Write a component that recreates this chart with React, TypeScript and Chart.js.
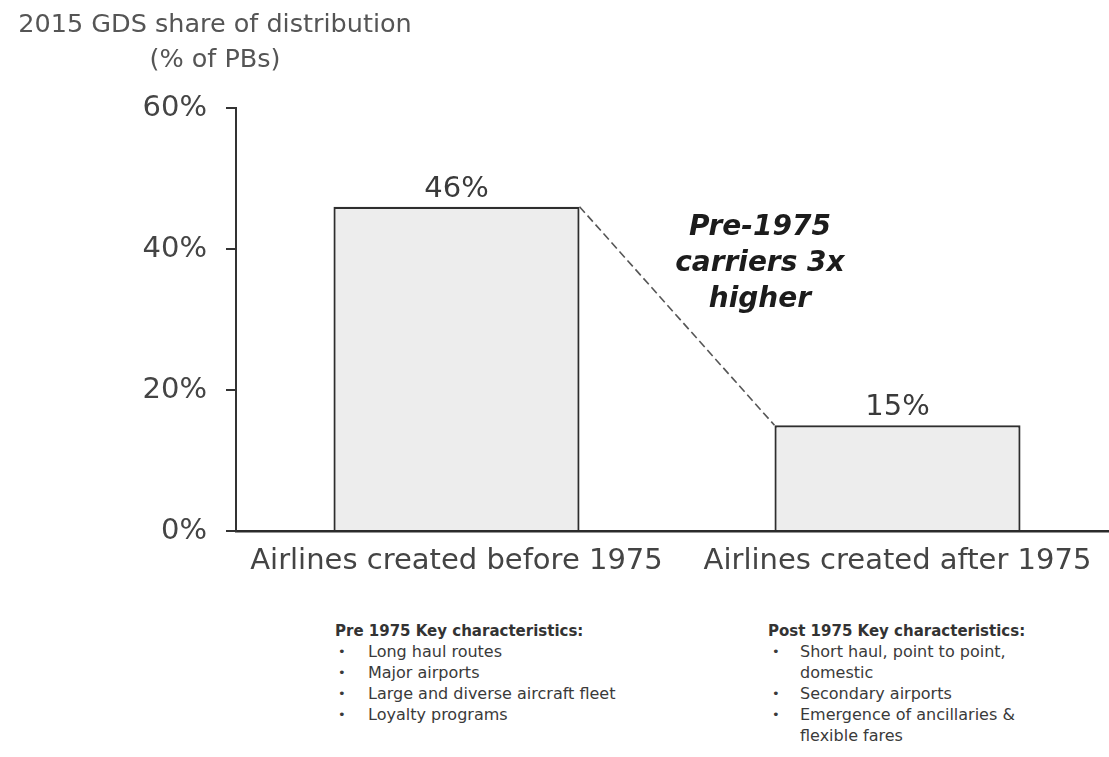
import React, { useEffect, useRef } from "react";
import { Chart, registerables } from "chart.js";

Chart.register(...registerables);

// Chart data
const categories = ["Airlines created before 1975", "Airlines created after 1975"];
const gdsShare = [46, 15];
const yTickValues = [0, 20, 40, 60];

// Text content
const titleLines = ["2015 GDS share of distribution", "(% of PBs)"];
const calloutLines = ["Pre-1975", "carriers 3x", "higher"];
const preHeading = "Pre 1975 Key characteristics:";
const preItems = [
  "Long haul routes",
  "Major airports",
  "Large and diverse aircraft fleet",
  "Loyalty programs",
];
const postHeading = "Post 1975 Key characteristics:";
const postItems = [
  "Short haul, point to point,\ndomestic",
  "Secondary airports",
  "Emergence of ancillaries &\nflexible  fares",
];

const FONT = "'DejaVu Sans', 'Liberation Sans', Arial, sans-serif";

// Draws the dashed connector, the value labels and the callout text
const overlayPlugin = {
  id: "gdsOverlay",
  afterDatasetsDraw(chart: any) {
    const { ctx, chartArea } = chart;
    const bars = chart.getDatasetMeta(0).data as any[];
    const values = chart.data.datasets[0].data as number[];
    ctx.save();

    if (bars.length >= 2) {
      const a = bars[0].getProps(["x", "y", "width"], true);
      const b = bars[1].getProps(["x", "y", "width"], true);
      ctx.setLineDash([8, 4]);
      ctx.strokeStyle = "#555";
      ctx.lineWidth = 1.6;
      ctx.beginPath();
      ctx.moveTo(a.x + a.width / 2, a.y);
      ctx.lineTo(b.x - b.width / 2, b.y);
      ctx.stroke();
      ctx.setLineDash([]);
    }

    ctx.font = `29px ${FONT}`;
    ctx.fillStyle = "#3a3a3a";
    ctx.textAlign = "center";
    ctx.textBaseline = "alphabetic";
    bars.forEach((bar, i) => {
      ctx.fillText(`${values[i]}%`, bar.x, bar.y - 10);
    });

    ctx.font = `italic bold 28px ${FONT}`;
    ctx.fillStyle = "#1c1c1c";
    const cx = chartArea.left + (chartArea.right - chartArea.left) * 0.594;
    calloutLines.forEach((line, i) => {
      ctx.fillText(line, cx, chartArea.top + 127 + i * 36);
    });
    ctx.restore();
  },
};

function KeyList({ heading, items, left, bulletLeft, textLeft }: any) {
  return (
    <div
      style={{
        position: "absolute",
        left,
        top: 622,
        fontFamily: FONT,
        color: "#333",
      }}
    >
      <div style={{ fontWeight: "bold", fontSize: 15, lineHeight: "19px" }}>{heading}</div>
      {items.map((item: string, i: number) => (
        <div key={i} style={{ position: "relative", fontSize: 16, lineHeight: "21px", color: "#3a3a3a" }}>
          <span
            style={{
              position: "absolute",
              left: bulletLeft - left,
              top: 0,
              fontSize: 13,
            }}
          >
            •
          </span>
          <div style={{ marginLeft: textLeft - left, whiteSpace: "pre-line" }}>{item}</div>
        </div>
      ))}
    </div>
  );
}

export default function App() {
  const canvasRef = useRef<HTMLCanvasElement | null>(null);

  useEffect(() => {
    if (!canvasRef.current) return;
    const chart = new Chart(canvasRef.current, {
      type: "bar",
      data: {
        labels: categories,
        datasets: [
          {
            data: gdsShare,
            backgroundColor: "#ededed",
            borderColor: "#2e2e2e",
            borderWidth: 2.2,
            barPercentage: 0.558,
            categoryPercentage: 1,
          },
        ],
      },
      options: {
        animation: false,
        responsive: false,
        maintainAspectRatio: false,
        layout: { padding: { top: 108, right: 7, left: 0, bottom: 0 } },
        plugins: {
          legend: { display: false },
          tooltip: { enabled: false },
          title: { display: false },
        },
        scales: {
          x: {
            grid: { display: false, drawTicks: false },
            border: { display: true, color: "#2b2b2b", width: 2.5 },
            ticks: {
              color: "#444",
              font: { family: FONT, size: 29 },
              padding: 13,
              maxRotation: 0,
              autoSkip: false,
            },
            afterFit: (s: any) => {
              s.height = 69;
            },
          },
          y: {
            min: 0,
            max: 60,
            afterBuildTicks: (s: any) => {
              s.ticks = yTickValues.map((v) => ({ value: v }));
            },
            ticks: {
              callback: (v: any) => `${v}%`,
              color: "#444",
              font: { family: FONT, size: 29 },
              padding: 19,
            },
            grid: {
              drawOnChartArea: false,
              drawTicks: true,
              tickLength: 10,
              color: "#333",
              lineWidth: 2,
            },
            border: { display: true, color: "#333", width: 2 },
            afterFit: (s: any) => {
              s.width = 236;
            },
          },
        },
      },
      plugins: [overlayPlugin],
    });
    return () => chart.destroy();
  }, []);

  return (
    <div
      style={{
        position: "fixed",
        left: 0,
        top: 0,
        width: 1109,
        height: 757,
        overflow: "hidden",
        background: "#fff",
      }}
    >
      <canvas
        ref={canvasRef}
        width={1125}
        height={600}
        style={{ position: "absolute", left: 0, top: 0, width: 1125, height: 600 }}
      />
      <div
        style={{
          position: "absolute",
          left: 0,
          width: 430,
          top: 6,
          textAlign: "center",
          fontFamily: FONT,
          fontSize: 25.5,
          lineHeight: "35px",
          color: "#555",
          whiteSpace: "nowrap",
        }}
      >
        <div>{titleLines[0]}</div>
        <div>{titleLines[1]}</div>
      </div>
      <KeyList heading={preHeading} items={preItems} left={335} bulletLeft={338} textLeft={368} />
      <KeyList heading={postHeading} items={postItems} left={768} bulletLeft={772} textLeft={800} />
    </div>
  );
}
